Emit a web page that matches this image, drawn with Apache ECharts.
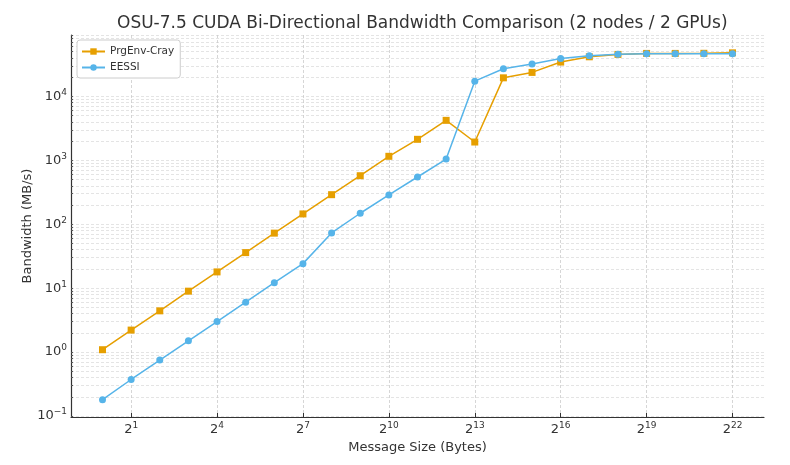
<!DOCTYPE html>
<html lang="en">
<head>
    <meta charset="UTF-8">
    <title>OSU-7.5 CUDA Bi-Directional Bandwidth</title>
    <script src="https://cdn.jsdelivr.net/npm/echarts/dist/echarts.min.js"></script>
    <style>
        html, body { margin: 0; padding: 0; background: #fff; }
        #main { width: 790px; height: 465px; }
    </style>
</head>
<body>
<div id="main"></div>
<script>
    // message sizes in bytes (2^0 .. 2^22)
    const messageSizes = [1, 2, 4, 8, 16, 32, 64, 128, 256, 512, 1024, 2048, 4096, 8192,
        16384, 32768, 65536, 131072, 262144, 524288, 1048576, 2097152, 4194304];

    // bandwidth in MB/s
    const prgEnvCray = [1.09, 2.21, 4.42, 8.98, 17.97, 36.0, 72.6, 145, 290, 574, 1155, 2130, 4217, 1932,
        19500, 23700, 34400, 41600, 45300, 47000, 47000, 47200, 48000];
    const eessi = [0.18, 0.373, 0.75, 1.50, 3.01, 6.03, 12.2, 24.2, 73.1, 148.6, 287, 548, 1047, 17300,
        27000, 32200, 39200, 43100, 45700, 46300, 46300, 46300, 46300];

    // tick labels
    const xTickExps = [1, 4, 7, 10, 13, 16, 19, 22];
    const yTickExps = [-1, 0, 1, 2, 3, 4];

    const xTicks = xTickExps.map(e => Math.pow(2, e));
    const yMajor = yTickExps.map(e => Math.pow(10, e));
    // minor lines at 2..9 x 10^k like the original
    const yMinor = [];
    for (let k = -2; k <= 4; k++) {
        for (let m = 1; m <= 9; m++) yMinor.push(m * Math.pow(10, k));
    }

    function pairs(ys) {
        return ys.map((v, i) => [messageSizes[i], v]);
    }

    function supLabel(base, value, logBase) {
        const e = Math.round(Math.log(value) / Math.log(logBase));
        const s = String(e).replace('-', '\u2212');
        return '{b|' + base + '}{s|' + s + '}';
    }

    const richLabel = {
        b: { fontSize: 13, color: '#333', fontFamily: 'DejaVu Sans' },
        s: { fontSize: 9, color: '#333', fontFamily: 'DejaVu Sans', padding: [0, 0, 8, 0] }
    };

    const chart = echarts.init(document.getElementById('main'));

    chart.setOption({
        animation: false,
        title: {
            text: 'OSU-7.5 CUDA Bi-Directional Bandwidth Comparison (2 nodes / 2 GPUs)',
            left: 112,
            top: 10,
            textStyle: { fontFamily: 'DejaVu Sans', fontSize: 17, fontWeight: 'normal', color: '#333' }
        },
        legend: {
            left: 77,
            top: 40,
            orient: 'vertical',
            itemWidth: 23,
            itemHeight: 8,
            itemGap: 5,
            padding: [6, 6, 5, 4],
            borderColor: '#ccc',
            borderWidth: 1,
            borderRadius: 3,
            backgroundColor: '#fff',
            textStyle: { fontFamily: 'DejaVu Sans', fontSize: 10.5, color: '#333' },
            data: ['PrgEnv-Cray', 'EESSI']
        },
        grid: { left: 71, right: 26, top: 35, bottom: 48 },
        xAxis: {
            type: 'log',
            logBase: 2,
            min: Math.pow(2, -1.1),
            max: Math.pow(2, 23.1),
            name: 'Message Size (Bytes)',
            nameLocation: 'middle',
            nameGap: 20,
            nameTextStyle: { fontFamily: 'DejaVu Sans', fontSize: 13, color: '#333' },
            axisLine: { lineStyle: { color: '#333', width: 1.2 } },
            axisTick: { inside: true, length: 4, customValues: xTicks, lineStyle: { color: '#333' } },
            axisLabel: {
                customValues: xTicks,
                margin: 4,
                formatter: v => supLabel('2', v, 2),
                rich: richLabel
            },
            splitLine: { show: true, lineStyle: { color: '#ccc', type: [3, 2], width: 0.8 } }
        },
        yAxis: {
            type: 'log',
            logBase: 10,
            min: Math.pow(10, -1.015),
            max: Math.pow(10, 4.96),
            name: 'Bandwidth (MB/s)',
            nameLocation: 'middle',
            nameGap: 37,
            nameMoveOverlap: false,
            nameTextStyle: { fontFamily: 'DejaVu Sans', fontSize: 13, color: '#333' },
            axisLine: { show: true, lineStyle: { color: '#333', width: 1.2 } },
            axisTick: { show: true, inside: true, length: 2, customValues: yMinor, lineStyle: { color: '#555' } },
            axisLabel: {
                customValues: yMajor,
                margin: 4,
                formatter: v => supLabel('10', v, 10),
                rich: richLabel
            },
            splitLine: { show: true, lineStyle: { color: '#ddd', type: [3, 2], width: 0.8 } }
        },
        series: [
            {
                name: 'PrgEnv-Cray',
                type: 'line',
                data: pairs(prgEnvCray),
                symbol: 'rect',
                symbolSize: 7,
                color: '#E69F00',
                lineStyle: { width: 1.5 },
                z: 3
            },
            {
                name: 'EESSI',
                type: 'line',
                data: pairs(eessi),
                symbol: 'circle',
                symbolSize: 7,
                color: '#56B4E9',
                lineStyle: { width: 1.5 },
                z: 4
            }
        ]
    });
</script>
</body>
</html>
